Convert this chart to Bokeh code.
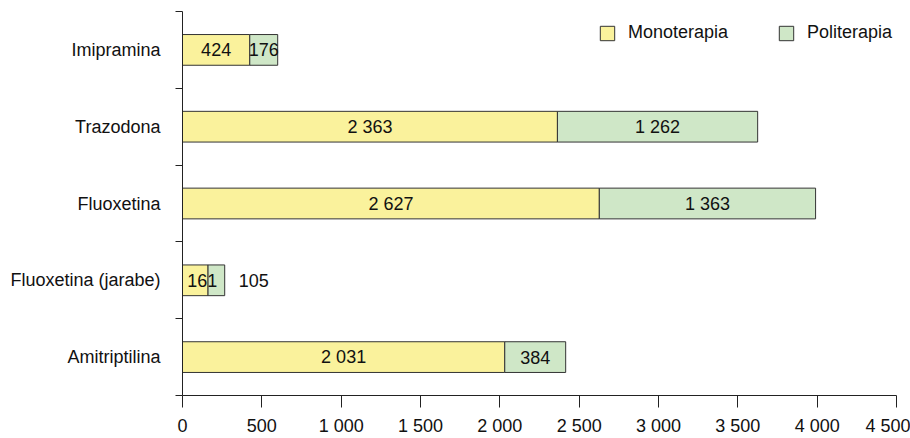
from bokeh.plotting import figure
from bokeh.models import Range1d, FixedTicker, ColumnDataSource, Legend, LegendItem
from bokeh.embed import file_html
from bokeh.resources import INLINE
from bokeh.core.properties import value

categories = ["Amitriptilina", "Fluoxetina (jarabe)", "Fluoxetina", "Trazodona", "Imipramina"]
mono = [2031, 161, 2627, 2363, 424]
poli = [384, 105, 1363, 1262, 176]
x_ticks = [0, 500, 1000, 1500, 2000, 2500, 3000, 3500, 4000, 4500]
x_tick_labels = ["0", "500", "1 000", "1 500", "2 000", "2 500", "3 000", "3 500", "4 000", "4 500"]
series_names = ["Monoterapia", "Politerapia"]

FONT = "Liberation Sans"
YELLOW = "#faf29c"
GREEN = "#cfe7c7"

def fmt(v):
    return f"{v:,}".replace(",", " ")

n = len(categories)
centers = [i + 0.5 for i in range(n)]
ends = [m + p for m, p in zip(mono, poli)]

p = figure(width=910, height=438, output_backend="svg", toolbar_location=None,
           x_range=Range1d(0, 4500), y_range=Range1d(0, n),
           min_border_left=182, min_border_right=14, min_border_top=11, min_border_bottom=42)
p.outline_line_color = None
p.xgrid.visible = False
p.ygrid.visible = False
p.background_fill_color = "white"

src = ColumnDataSource(dict(y=centers, mono=mono, end=ends, zero=[0] * n))
r1 = p.hbar(y="y", left="zero", right="mono", height=0.4, source=src,
            fill_color=YELLOW, line_color="#333333", line_width=1)
r2 = p.hbar(y="y", left="mono", right="end", height=0.4, source=src,
            fill_color=GREEN, line_color="#333333", line_width=1)

# labels
mx, my, mt, mo = [], [], [], []
for i in range(n):
    mx.append(mono[i] / 2)
    my.append(centers[i])
    mt.append(fmt(mono[i]))
    mo.append(7 if mono[i] < 200 else 0)
p.text(x=mx, y=my, text=mt, x_offset=mo, text_align="center", text_baseline="middle",
       text_font=value(FONT), text_font_size="18px", text_color="#111111")

inside_x, inside_y, inside_t = [], [], []
out_x, out_y, out_t = [], [], []
for i in range(n):
    if poli[i] < 150:
        out_x.append(ends[i]); out_y.append(centers[i]); out_t.append(fmt(poli[i]))
    else:
        inside_x.append(mono[i] + poli[i] / 2); inside_y.append(centers[i]); inside_t.append(fmt(poli[i]))
p.text(x=inside_x, y=inside_y, text=inside_t, text_align="center", text_baseline="middle",
       text_font=value(FONT), text_font_size="18px", text_color="#111111")
p.text(x=out_x, y=out_y, text=out_t, x_offset=14, text_align="left", text_baseline="middle",
       text_font=value(FONT), text_font_size="18px", text_color="#111111")

# x axis
xa = p.xaxis[0]
xa.ticker = FixedTicker(ticks=x_ticks)
xa.major_label_overrides = {t: l for t, l in zip(x_ticks, x_tick_labels)}
xa.major_tick_out = 12
xa.major_tick_in = 0
xa.minor_tick_out = 0
xa.minor_tick_in = 0
xa.axis_line_color = "#222222"
xa.major_tick_line_color = "#222222"
xa.major_label_text_font = FONT
xa.major_label_text_font_size = "18px"
xa.major_label_text_color = "#111111"
xa.major_label_standoff = 8

# y axis
ya = p.yaxis[0]
ya.ticker = FixedTicker(ticks=centers, minor_ticks=list(range(n + 1)))
ya.major_label_overrides = {c: name for c, name in zip(centers, categories)}
ya.major_tick_out = 0
ya.major_tick_in = 0
ya.minor_tick_out = 7
ya.minor_tick_in = 0
ya.minor_tick_line_color = "#222222"
ya.axis_line_color = "#222222"
ya.major_label_text_font = FONT
ya.major_label_text_font_size = "18px"
ya.major_label_text_color = "#111111"
ya.major_label_standoff = 15

legend = Legend(items=[LegendItem(label=series_names[0], renderers=[r1]),
                       LegendItem(label=series_names[1], renderers=[r2])],
                orientation="horizontal", location=(416, 352),
                glyph_width=18, glyph_height=18, label_height=18,
                label_standoff=12, spacing=49, padding=0, margin=0,
                border_line_alpha=0, background_fill_alpha=0,
                label_text_font=FONT, label_text_font_size="18px",
                label_text_color="#111111")
p.add_layout(legend, "center")

open("out.html", "w").write(file_html(p, INLINE))
